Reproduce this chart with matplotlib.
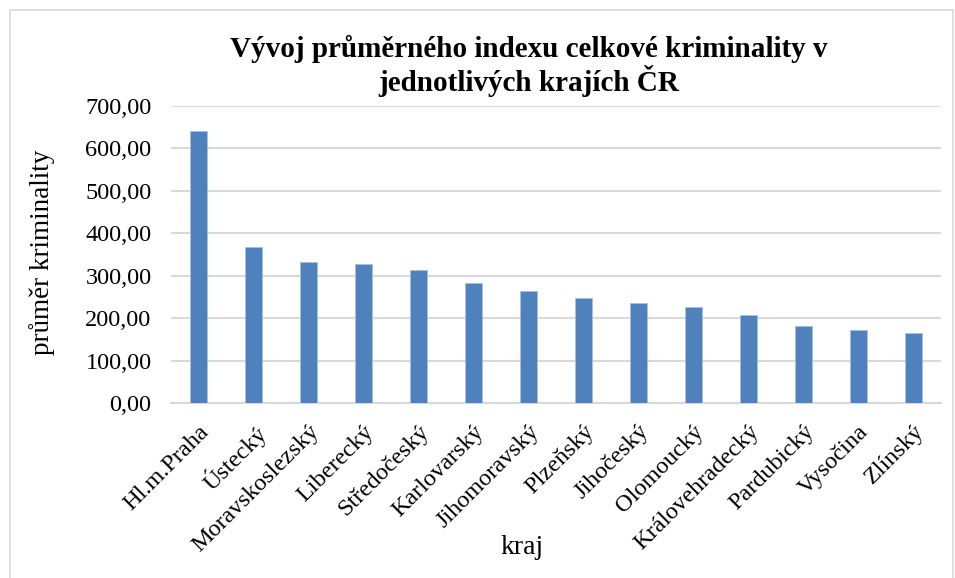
import matplotlib.pyplot as plt
from matplotlib.lines import Line2D
from matplotlib.ticker import FuncFormatter

plt.rcParams['font.family'] = ['Liberation Serif', 'DejaVu Serif']

# Data
kraje = ['Hl.m.Praha', 'Ústecký', 'Moravskoslezský', 'Liberecký', 'Středočeský',
         'Karlovarský', 'Jihomoravský', 'Plzeňský', 'Jihočeský', 'Olomoucký',
         'Královehradecký', 'Pardubický', 'Vysočina', 'Zlínský']
prumer = [640, 368, 332, 328, 314, 282, 263, 247, 235, 226, 208, 182, 171, 164]
y_ticks = [0, 100, 200, 300, 400, 500, 600, 700]

fig = plt.figure(figsize=(9.55, 5.78), dpi=100)
ax = fig.add_axes([0.179, 0.3028, 0.806, 0.5138])

x = range(len(kraje))
ax.bar(x, prumer, width=0.31, color='#4F81BD', edgecolor='#A9C1E0', linewidth=0.6, zorder=3)

ax.set_xlim(-0.5, len(kraje) - 0.5)
ax.set_ylim(0, 700)
ax.set_yticks(y_ticks)
ax.yaxis.set_major_formatter(FuncFormatter(lambda v, p: f'{v:.2f}'.replace('.', ',')))
ax.grid(axis='y', color='#D9D9D9', linewidth=1.5, zorder=0)
for s in ['top', 'right', 'left']:
    ax.spines[s].set_visible(False)
ax.spines['bottom'].set_color('#D9D9D9')
ax.spines['bottom'].set_linewidth(1.5)
ax.tick_params(axis='y', length=0, labelsize=17.5, pad=14)
ax.tick_params(axis='x', length=0, labelsize=17.5, pad=13)
ax.set_xticks(list(x))
ax.set_xticklabels(kraje, rotation=45, ha='right', rotation_mode='anchor')

fig.text(42 / 955, 1 - 252 / 578, 'průměr kriminality', fontsize=19.5,
         rotation=90, ha='center', va='center')
fig.text(522 / 955, 1 - 547 / 578, 'kraj', fontsize=20, ha='center', va='center')
fig.text(529 / 955, 1 - 66 / 578,
         'Vývoj průměrného indexu celkové kriminality v\njednotlivých krajích ČR',
         fontsize=21, fontweight='bold', ha='center', va='center', linespacing=1.1)

# light frame around the chart area
W, H = 955, 578
for xs, ys in [([10, 953], [10, 10]), ([10, 10], [10, 578]), ([953, 953], [10, 578])]:
    fig.add_artist(Line2D([v / W for v in xs], [1 - v / H for v in ys],
                          color='#D9D9D9', linewidth=1.2, transform=fig.transFigure))

fig.savefig('out.png', dpi=100)
